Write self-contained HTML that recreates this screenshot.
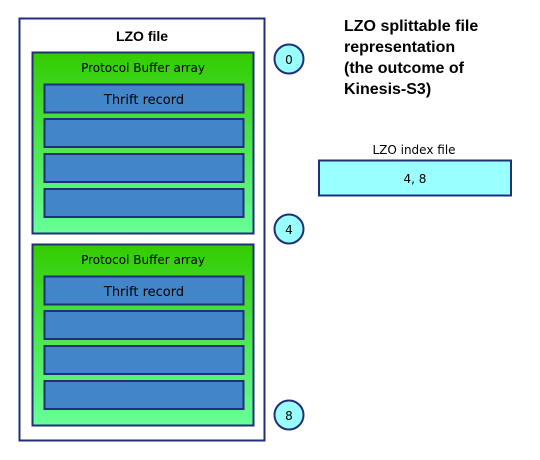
<!DOCTYPE html>
<html><head><meta charset="utf-8"><style>
body{margin:0;background:#fff;}
svg{display:block;font-family:"DejaVu Sans","Liberation Sans",sans-serif;}
</style></head><body>
<svg width="540" height="460" viewBox="0 0 540 460">
<defs>
<linearGradient id="g" x1="0" y1="0" x2="0" y2="1">
<stop offset="0" stop-color="#33cc00"/><stop offset="1" stop-color="#66ff99"/>
</linearGradient>
</defs>
<rect x="19.5" y="18.5" width="245" height="422" fill="#fff" stroke="#1f2f7a" stroke-width="2"/>
<text x="142" y="41" text-anchor="middle" font-size="13" font-weight="bold" fill="#000" font-family="Liberation Sans, sans-serif" style="font-size:14px">LZO file</text>

<g>
<rect x="32.5" y="52.5" width="221" height="181" fill="url(#g)" stroke="#1f2f7a" stroke-width="2"/>
<text x="143" y="72" text-anchor="middle" font-size="12" fill="#000">Protocol Buffer array</text>
<rect x="44.5" y="84.5" width="199" height="28" fill="#4285c8" stroke="#1f2f7a" stroke-width="2"/>
<text x="144" y="104" text-anchor="middle" font-size="13" fill="#000">Thrift record</text>
<rect x="44.5" y="119" width="199" height="28" fill="#4285c8" stroke="#1f2f7a" stroke-width="2"/>
<rect x="44.5" y="154" width="199" height="28" fill="#4285c8" stroke="#1f2f7a" stroke-width="2"/>
<rect x="44.5" y="189" width="199" height="28" fill="#4285c8" stroke="#1f2f7a" stroke-width="2"/>
</g>

<g>
<rect x="32.5" y="244.5" width="221" height="181" fill="url(#g)" stroke="#1f2f7a" stroke-width="2"/>
<text x="143" y="264" text-anchor="middle" font-size="12" fill="#000">Protocol Buffer array</text>
<rect x="44.5" y="276.5" width="199" height="28" fill="#4285c8" stroke="#1f2f7a" stroke-width="2"/>
<text x="144" y="296" text-anchor="middle" font-size="13" fill="#000">Thrift record</text>
<rect x="44.5" y="311" width="199" height="28" fill="#4285c8" stroke="#1f2f7a" stroke-width="2"/>
<rect x="44.5" y="346" width="199" height="28" fill="#4285c8" stroke="#1f2f7a" stroke-width="2"/>
<rect x="44.5" y="381" width="199" height="28" fill="#4285c8" stroke="#1f2f7a" stroke-width="2"/>
</g>

<g><circle cx="289" cy="59" r="14.5" fill="#99ffff" stroke="#1f2f7a" stroke-width="2"/><text x="289" y="64" text-anchor="middle" font-size="12">0</text></g>
<g><circle cx="289" cy="229" r="14.5" fill="#99ffff" stroke="#1f2f7a" stroke-width="2"/><text x="289" y="234" text-anchor="middle" font-size="12">4</text></g>
<g><circle cx="289" cy="415" r="14.5" fill="#99ffff" stroke="#1f2f7a" stroke-width="2"/><text x="289" y="420" text-anchor="middle" font-size="12">8</text></g>

<g font-size="16" font-weight="bold" fill="#000" font-family="Liberation Sans, sans-serif">
<text x="344" y="31">LZO splittable file</text>
<text x="344" y="52">representation</text>
<text x="344" y="73">(the outcome of</text>
<text x="344" y="94">Kinesis-S3)</text>
</g>

<text x="414" y="154" text-anchor="middle" font-size="12">LZO index file</text>
<rect x="319" y="160.5" width="192" height="35" fill="#99ffff" stroke="#1f2f7a" stroke-width="2"/>
<text x="415" y="183" text-anchor="middle" font-size="12">4, 8</text>
</svg>
</body></html>
